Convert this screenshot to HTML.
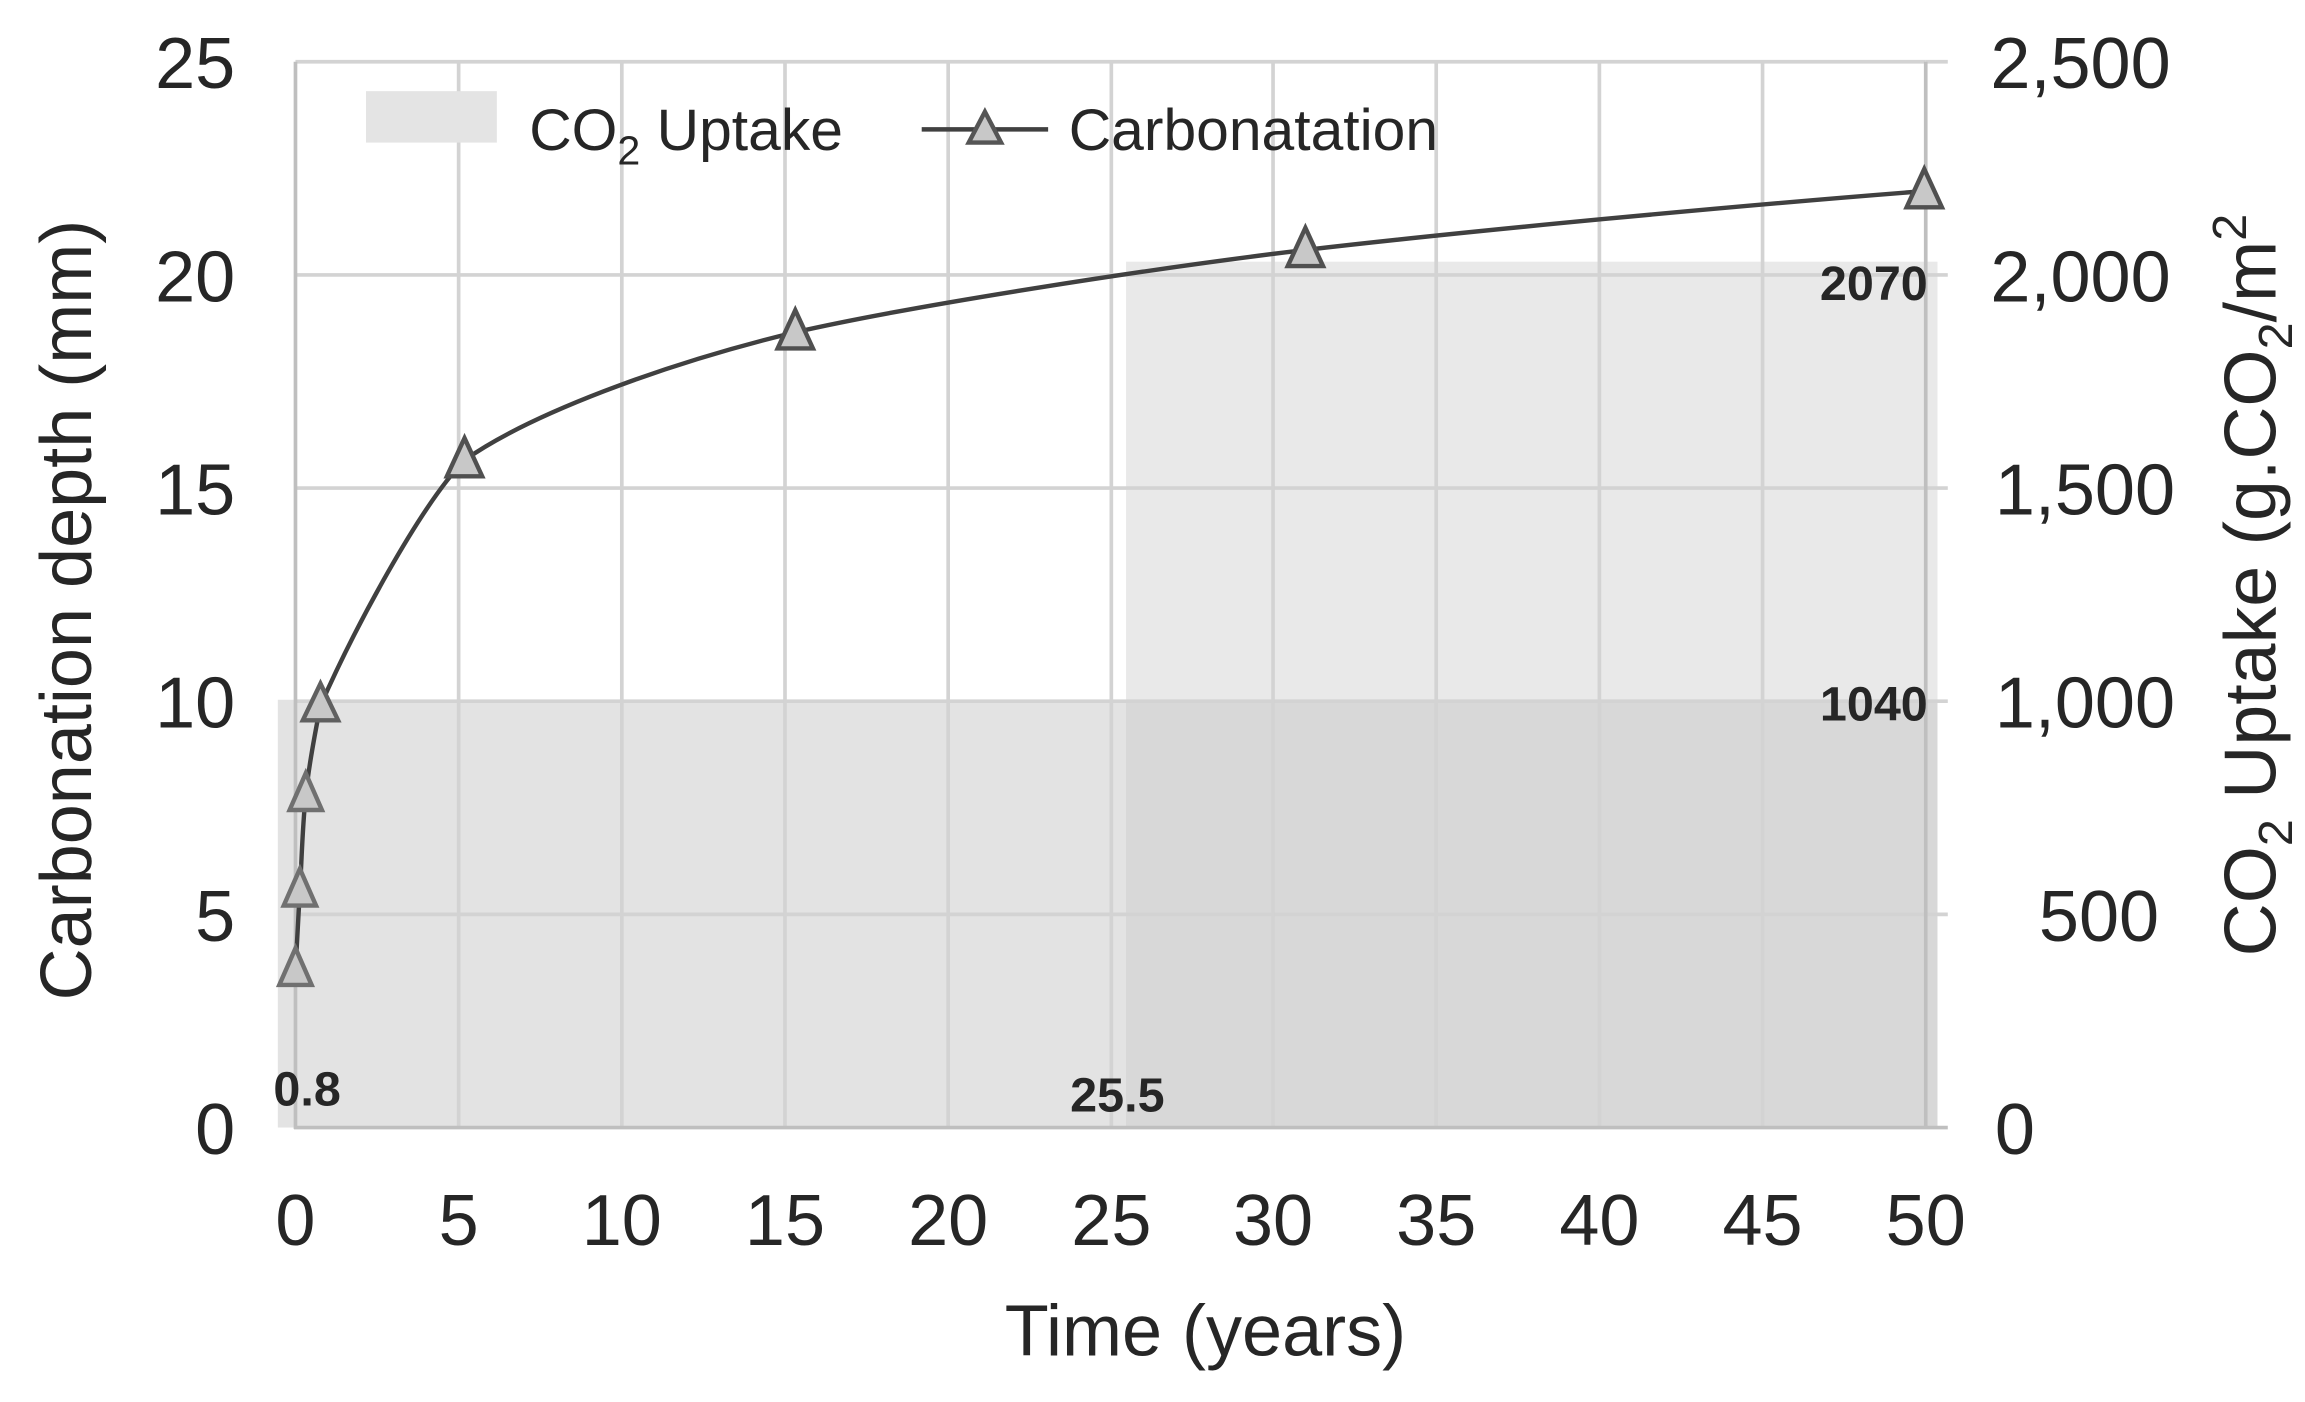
<!DOCTYPE html>
<html><head><meta charset="utf-8"><style>
html,body{margin:0;padding:0;background:#fff;}
svg{display:block;}
text{font-family:"Liberation Sans",Arial,sans-serif;fill:#262626;}
.dl{font-family:"Liberation Sans Narrow","Liberation Sans",sans-serif;font-weight:bold;font-size:33px;}
</style></head><body>
<svg width="2305" height="1402" viewBox="0 0 1568 953.7" preserveAspectRatio="none" xmlns="http://www.w3.org/2000/svg">
<rect width="1568" height="954" fill="#fff"/>
<rect x="189" y="476" width="1129" height="291" fill="#e3e3e3"/>
<rect x="766" y="178" width="552" height="589" fill="rgb(200,200,200)" fill-opacity="0.4"/>
<g stroke="#d3d3d3" stroke-width="2.5">
<line x1="201" y1="42" x2="1310" y2="42"/>
<line x1="201" y1="187" x2="1325" y2="187"/>
<line x1="201" y1="332" x2="1325" y2="332"/>
<line x1="201" y1="477" x2="1325" y2="477"/>
<line x1="201" y1="622" x2="1325" y2="622"/>
<line x1="1310" y1="42" x2="1325" y2="42"/>
<line x1="312" y1="42" x2="312" y2="767"/>
<line x1="423" y1="42" x2="423" y2="767"/>
<line x1="534" y1="42" x2="534" y2="767"/>
<line x1="645" y1="42" x2="645" y2="767"/>
<line x1="756" y1="42" x2="756" y2="767"/>
<line x1="866" y1="42" x2="866" y2="767"/>
<line x1="977" y1="42" x2="977" y2="767"/>
<line x1="1088" y1="42" x2="1088" y2="767"/>
<line x1="1199" y1="42" x2="1199" y2="767"/>
</g>
<g stroke="#bfbfbf" stroke-width="2.5">
<line x1="201" y1="42" x2="201" y2="768"/>
<line x1="1310" y1="42" x2="1310" y2="768"/>
<line x1="200" y1="767" x2="1325" y2="767"/>
</g>
<rect x="249" y="62" width="89" height="35" fill="#e4e4e4"/>
<text x="360" y="102" font-size="40">CO<tspan font-size="28" dy="10">2</tspan><tspan dy="-10"> Uptake</tspan></text>
<line x1="627" y1="88" x2="713" y2="88" stroke="#404040" stroke-width="3"/>
<polygon points="670,76 681,97 659,97" fill="#c8c8c8" stroke="#555" stroke-width="3"/>
<text x="727" y="102" font-size="40">Carbonatation</text>
<path d="M201,660 C201.5,651 202.8,626 204,606 C205.2,586 205.7,562 208,541 C210,521 214,500 218,480 C240,430 285,345 316,313 C360,282 450,248 541,226 C620,208 780,183 888,170 C1000,157 1180,140 1309,130" fill="none" stroke="#404040" stroke-width="3"/>
<g fill="#c8c8c8" stroke-width="3">
<polygon stroke="#707070" points="201,645 212,670 190,670"/>
<polygon stroke="#707070" points="204,591 215,616 193,616"/>
<polygon stroke="#707070" points="208,526 219,551 197,551"/>
<polygon stroke="#606060" points="218,465 230,490 206,490"/>
<polygon stroke="#505050" points="316,298 328,324 304,324"/>
<polygon stroke="#505050" points="541,211 553,237 529,237"/>
<polygon stroke="#505050" points="888,155 900,181 876,181"/>
<polygon stroke="#505050" points="1309,115 1321,141 1297,141"/>
</g>
<text class="dl" x="186" y="752">0.8</text>
<text class="dl" x="728" y="756">25.5</text>
<text class="dl" x="1238" y="204">2070</text>
<text class="dl" x="1238" y="490">1040</text>
<g font-size="49" text-anchor="end">
<text x="160" y="60">25</text>
<text x="160" y="205">20</text>
<text x="160" y="350">15</text>
<text x="160" y="495">10</text>
<text x="160" y="640">5</text>
<text x="160" y="785">0</text>
</g>
<g font-size="49" text-anchor="start">
<text x="1354" y="60">2,500</text>
<text x="1354" y="205">2,000</text>
<text x="1357" y="350">1,500</text>
<text x="1357" y="495">1,000</text>
<text x="1387" y="640">500</text>
<text x="1357" y="785">0</text>
</g>
<g font-size="49" text-anchor="middle">
<text x="201" y="847">0</text>
<text x="312" y="847">5</text>
<text x="423" y="847">10</text>
<text x="534" y="847">15</text>
<text x="645" y="847">20</text>
<text x="756" y="847">25</text>
<text x="866" y="847">30</text>
<text x="977" y="847">35</text>
<text x="1088" y="847">40</text>
<text x="1199" y="847">45</text>
<text x="1310" y="847">50</text>
</g>
<text x="820" y="922" font-size="49" text-anchor="middle">Time (years)</text>
<text transform="translate(62,415) rotate(-90)" font-size="49" text-anchor="middle">Carbonation depth (mm)</text>
<text transform="translate(1548,398) rotate(-90)" font-size="50" text-anchor="middle">CO<tspan font-size="33" dy="11">2</tspan><tspan dy="-11"> Uptake (g.CO</tspan><tspan font-size="33" dy="11">2</tspan><tspan dy="-11">/m</tspan><tspan font-size="33" dy="-20">2</tspan></text>
</svg>
</body></html>
